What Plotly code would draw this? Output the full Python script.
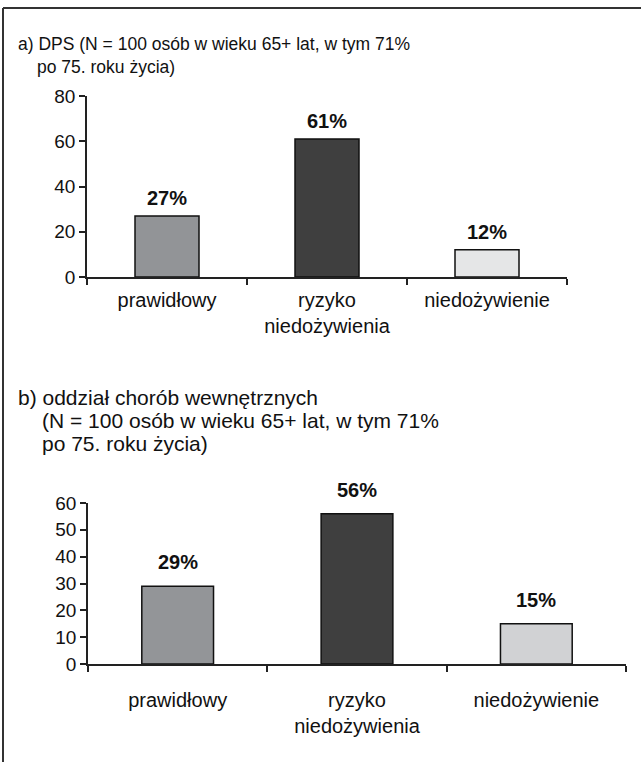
import plotly.graph_objects as go

W, H = 641, 762

# categories and values
categories = ["prawidłowy", "ryzyko<br>niedożywienia", "niedożywienie"]
dps_values = [27, 61, 12]
ward_values = [29, 56, 15]

dps_colors = ["#929497", "#3f3f3f", "#e5e6e7"]
ward_colors = ["#939598", "#3f3f3f", "#d1d2d4"]

dps_ticks = [0, 20, 40, 60, 80]
ward_ticks = [0, 10, 20, 30, 40, 50, 60]

title_a = ["a) DPS (N = 100 osób w wieku 65+ lat, w tym 71%", "po 75. roku życia)"]
title_b = ["b) oddział chorób wewnętrznych",
           "(N = 100 osób w wieku 65+ lat, w tym 71%",
           "po 75. roku życia)"]

FONT = "Liberation Sans, Arial, sans-serif"
INK = "#111111"


def px_x(x):
    return x / W


def px_y(y):
    return 1 - y / H


fig = go.Figure()

fig.add_trace(go.Bar(
    x=categories, y=dps_values, xaxis="x", yaxis="y",
    marker=dict(color=dps_colors, line=dict(color="#111111", width=1.5)),
    showlegend=False, hoverinfo="skip",
))
fig.add_trace(go.Bar(
    x=categories, y=ward_values, xaxis="x2", yaxis="y2",
    marker=dict(color=ward_colors, line=dict(color="#111111", width=1.5)),
    showlegend=False, hoverinfo="skip",
))

axis_common = dict(
    showline=True, linecolor="#222222", linewidth=1.5,
    ticks="outside", ticklen=6, tickwidth=1.5, tickcolor="#222222",
    showgrid=False, zeroline=False, automargin=False,
    fixedrange=True,
)

annotations = []

# value labels above the bars
for cats, vals, xa, ya, shift in [(categories, dps_values, "x", "y", 5),
                                   (categories, ward_values, "x2", "y2", 11)]:
    for c, v in zip(cats, vals):
        annotations.append(dict(
            x=c, y=v, xref=xa, yref=ya, text=f"{v}%", showarrow=False,
            yanchor="bottom", yshift=shift,
            font=dict(family=FONT, size=20, color=INK, weight="bold"),
        ))

# headings
annotations.append(dict(x=px_x(16), y=px_y(44), xref="paper", yref="paper",
                        text=title_a[0], showarrow=False, xanchor="left",
                        yanchor="middle", font=dict(family=FONT, size=17.5, color=INK)))
annotations.append(dict(x=px_x(35), y=px_y(67), xref="paper", yref="paper",
                        text=title_a[1], showarrow=False, xanchor="left",
                        yanchor="middle", font=dict(family=FONT, size=17.5, color=INK)))
for i, (line, x0) in enumerate(zip(title_b, [16, 40, 40])):
    annotations.append(dict(x=px_x(x0), y=px_y(397 + 23 * i), xref="paper", yref="paper",
                            text=line, showarrow=False, xanchor="left",
                            yanchor="middle", font=dict(family=FONT, size=21, color=INK)))

# page frame
shapes = [
    dict(type="line", xref="paper", yref="paper", x0=px_x(3), x1=1.01,
         y0=px_y(8), y1=px_y(8), line=dict(color="#333333", width=2)),
    dict(type="line", xref="paper", yref="paper", x0=px_x(3), x1=px_x(3),
         y0=px_y(8), y1=-0.01, line=dict(color="#333333", width=2)),
]

fig.update_layout(
    width=W, height=H,
    autosize=False,
    margin=dict(l=0, r=0, t=0, b=0, pad=0, autoexpand=False),
    paper_bgcolor="white", plot_bgcolor="white",
    bargap=0.6,
    font=dict(family=FONT, color=INK),
    xaxis=dict(domain=[px_x(87), px_x(567)], anchor="y", type="category",
               tickson="boundaries", ticklabelstandoff=4,
               tickfont=dict(family=FONT, size=20, color=INK), **axis_common),
    yaxis=dict(domain=[px_y(277), px_y(96)], anchor="x", range=[0, 80],
               tickvals=dps_ticks, tickfont=dict(family=FONT, size=19, color=INK),
               **axis_common),
    xaxis2=dict(domain=[px_x(88), px_x(626)], anchor="y2", type="category",
                tickson="boundaries", ticklabelstandoff=17,
                tickfont=dict(family=FONT, size=20, color=INK), **axis_common),
    yaxis2=dict(domain=[px_y(664), px_y(503)], anchor="x2", range=[0, 60],
                tickvals=ward_ticks, tickfont=dict(family=FONT, size=19, color=INK),
                **axis_common),
    annotations=annotations,
    shapes=shapes,
)

fig.write_html("out.html")
